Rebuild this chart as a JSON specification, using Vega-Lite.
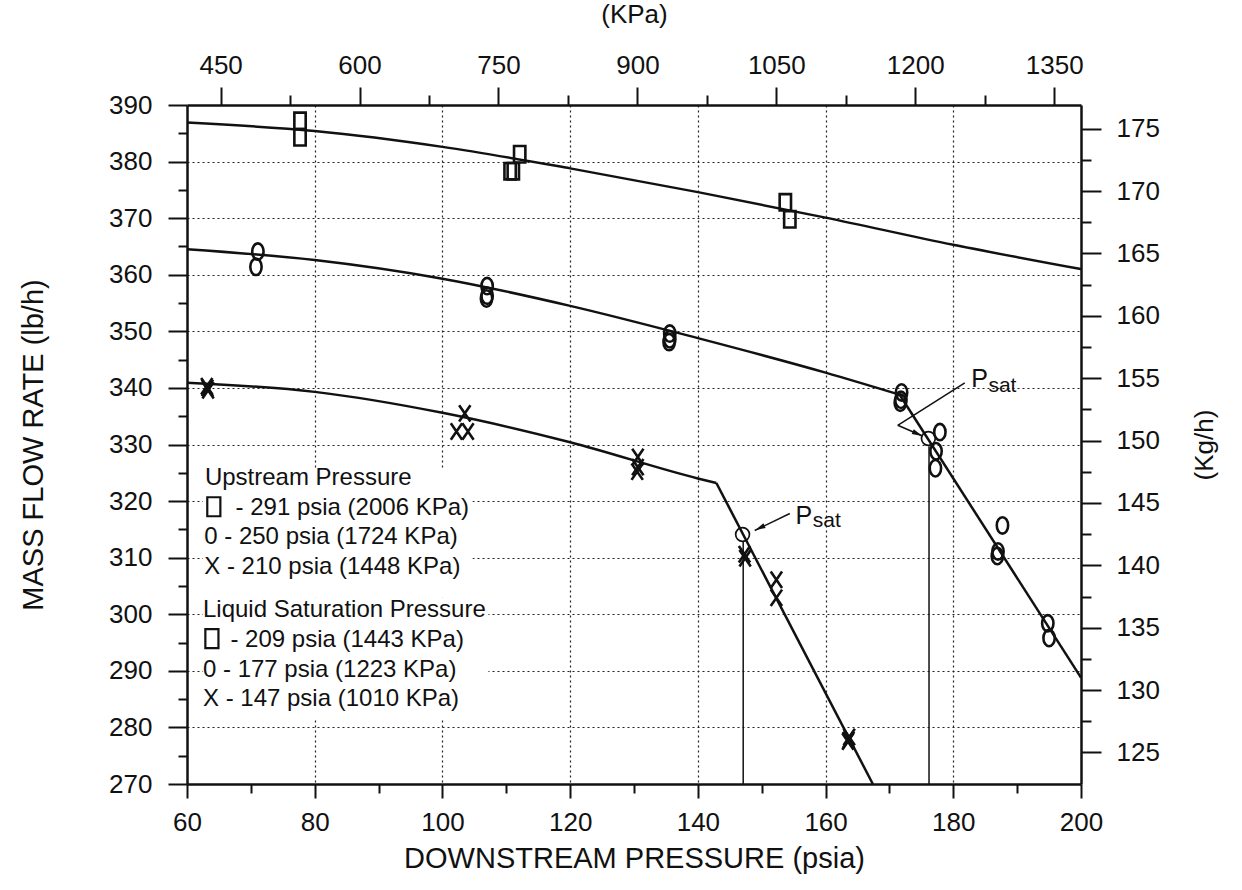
{
  "$schema": "https://vega.github.io/schema/vega-lite/v6.json",
  "width": 894,
  "height": 679,
  "autosize": {"type": "none"},
  "padding": {"left": 187, "top": 105, "right": 161, "bottom": 106},
  "background": "white",
  "config": {"view": {"stroke": null}, "font": "Liberation Sans"},
  "datasets": {
    "curves": [
      {"c": "sq", "psia": 60, "lb": 386.9}, {"c": "sq", "psia": 80, "lb": 385.4}, {"c": "sq", "psia": 100, "lb": 382.6},
      {"c": "sq", "psia": 120, "lb": 378.8}, {"c": "sq", "psia": 140, "lb": 374.6}, {"c": "sq", "psia": 160, "lb": 370.1},
      {"c": "sq", "psia": 180, "lb": 365.3}, {"c": "sq", "psia": 200, "lb": 361.0},
      {"c": "o1", "psia": 60, "lb": 364.5}, {"c": "o1", "psia": 80, "lb": 362.6}, {"c": "o1", "psia": 100, "lb": 359.3},
      {"c": "o1", "psia": 120, "lb": 354.5}, {"c": "o1", "psia": 140, "lb": 348.8}, {"c": "o1", "psia": 160, "lb": 342.7},
      {"c": "o1", "psia": 171.6, "lb": 338.8},
      {"c": "o2", "psia": 171.6, "lb": 338.8}, {"c": "o2", "psia": 200, "lb": 288.8},
      {"c": "x1", "psia": 60, "lb": 340.9}, {"c": "x1", "psia": 80, "lb": 339.3}, {"c": "x1", "psia": 100, "lb": 335.6},
      {"c": "x1", "psia": 120, "lb": 330.4}, {"c": "x1", "psia": 140, "lb": 324.0}, {"c": "x1", "psia": 142.9, "lb": 323.2},
      {"c": "x2", "psia": 142.9, "lb": 323.2}, {"c": "x2", "psia": 167.4, "lb": 270}
    ],
    "leaders": [
      {"g": "a1", "psia": 171.3, "lb": 333.4}, {"g": "a1", "psia": 181.8, "lb": 340.9},
      {"g": "a2", "psia": 171.3, "lb": 333.4}, {"g": "a2", "psia": 175.2, "lb": 331.5},
      {"g": "b", "psia": 148.9, "lb": 314.8}, {"g": "b", "psia": 154.4, "lb": 317.8}
    ],
    "vlines": [
      {"psia": 147.1, "lb": 270, "lb2": 312.8},
      {"psia": 176.2, "lb": 270, "lb2": 329.7}
    ],
    "whitebox": [
      {"psia": 62.5, "psia2": 104.7, "lb": 303, "lb2": 325.8},
      {"psia": 62.5, "psia2": 107.2, "lb": 281.6, "lb2": 303}
    ],
    "points": [
      {"s": "sq", "psia": 77.7, "lb": 387.2}, {"s": "sq", "psia": 77.7, "lb": 384.3},
      {"s": "sq", "psia": 112.1, "lb": 381.3}, {"s": "sq", "psia": 110.6, "lb": 378.3}, {"s": "sq", "psia": 111.1, "lb": 378.3},
      {"s": "sq", "psia": 153.7, "lb": 372.8}, {"s": "sq", "psia": 154.4, "lb": 369.8},
      {"s": "o", "psia": 71.1, "lb": 364.1}, {"s": "o", "psia": 70.8, "lb": 361.4},
      {"s": "o", "psia": 107.0, "lb": 358.0}, {"s": "o", "psia": 107.0, "lb": 356.3}, {"s": "o", "psia": 106.9, "lb": 355.8},
      {"s": "o", "psia": 135.6, "lb": 349.6}, {"s": "o", "psia": 135.6, "lb": 348.6}, {"s": "o", "psia": 135.5, "lb": 348.1},
      {"s": "o", "psia": 171.9, "lb": 339.2}, {"s": "o", "psia": 171.8, "lb": 337.9}, {"s": "o", "psia": 171.7, "lb": 337.4},
      {"s": "o", "psia": 177.9, "lb": 332.2}, {"s": "o", "psia": 177.3, "lb": 328.8}, {"s": "o", "psia": 177.2, "lb": 325.8},
      {"s": "o", "psia": 187.7, "lb": 315.7}, {"s": "o", "psia": 187.0, "lb": 311.1}, {"s": "o", "psia": 186.9, "lb": 310.3},
      {"s": "o", "psia": 194.8, "lb": 298.4}, {"s": "o", "psia": 195.0, "lb": 295.8},
      {"s": "x", "psia": 63.2, "lb": 340.0}, {"s": "x", "psia": 63.3, "lb": 339.6}, {"s": "x", "psia": 63.1, "lb": 340.3},
      {"s": "x", "psia": 103.5, "lb": 335.5}, {"s": "x", "psia": 102.2, "lb": 332.3}, {"s": "x", "psia": 104.0, "lb": 332.3},
      {"s": "x", "psia": 130.6, "lb": 327.8}, {"s": "x", "psia": 130.6, "lb": 326.0}, {"s": "x", "psia": 130.5, "lb": 325.2},
      {"s": "x", "psia": 147.3, "lb": 310.6}, {"s": "x", "psia": 147.4, "lb": 309.9},
      {"s": "x", "psia": 152.3, "lb": 306.1}, {"s": "x", "psia": 152.3, "lb": 302.9},
      {"s": "x", "psia": 163.6, "lb": 277.8}, {"s": "x", "psia": 163.7, "lb": 278.3}, {"s": "x", "psia": 163.5, "lb": 277.5}
    ],
    "psat": [
      {"psia": 176.1, "lb": 331.05},
      {"psia": 147.0, "lb": 314.1}
    ],
    "arrowA": [{"psia": 174.4, "lb": 331.9}],
    "arrowB": [{"psia": 149.7, "lb": 315.26}],
    "legendBoxes": [
      {"psia": 64.2, "lb": 319.0},
      {"psia": 63.9, "lb": 295.7}
    ],
    "legendText": [
      {"psia": 62.8, "lb": 322.8, "t": "Upstream Pressure"},
      {"psia": 67.6, "lb": 317.5, "t": "- 291 psia (2006 KPa)"},
      {"psia": 62.7, "lb": 312.5, "t": "0 - 250 psia (1724 KPa)"},
      {"psia": 62.7, "lb": 307.2, "t": "X - 210 psia (1448 KPa)"},
      {"psia": 62.5, "lb": 299.5, "t": "Liquid Saturation Pressure"},
      {"psia": 66.8, "lb": 294.2, "t": "- 209 psia (1443 KPa)"},
      {"psia": 62.5, "lb": 288.9, "t": "0 - 177 psia (1223 KPa)"},
      {"psia": 62.5, "lb": 283.7, "t": "X - 147 psia (1010 KPa)"}
    ],
    "pText": [
      {"psia": 182.8, "lb": 340.2, "t": "P"},
      {"psia": 155.3, "lb": 316.0, "t": "P"}
    ],
    "satText": [
      {"psia": 185.5, "lb": 339.3, "t": "sat"},
      {"psia": 158.0, "lb": 315.4, "t": "sat"}
    ],
    "second": [
      {"kpa": 413.685, "kg": 122.47},
      {"kpa": 1378.951, "kg": 176.904}
    ]
  },
  "layer": [
    {
      "encoding": {
        "x": {
          "field": "psia", "type": "quantitative",
          "scale": {"domain": [60, 200], "nice": false, "zero": false},
          "axis": {
            "orient": "bottom",
            "values": [60, 70, 80, 90, 100, 110, 120, 130, 140, 150, 160, 170, 180, 190, 200],
            "labelExpr": "datum.value % 20 === 0 ? datum.label : ''",
            "tickSize": {"condition": {"test": "datum.value % 20 === 0", "value": 14}, "value": 9},
            "tickWidth": 2, "tickColor": "#111",
            "domainWidth": 2.5, "domainColor": "#111",
            "grid": true,
            "gridOpacity": {"condition": {"test": "datum.value % 20 === 0 && datum.value > 60 && datum.value < 200", "value": 1}, "value": 0},
            "gridDash": [2, 3], "gridColor": "#222", "gridWidth": 1.2,
            "labelFont": "Liberation Sans", "labelFontSize": 26, "labelColor": "#111", "labelPadding": 11,
            "labelFlush": false, "labelOverlap": false,
            "title": "DOWNSTREAM PRESSURE (psia)", "titleFont": "Liberation Sans", "titleFontSize": 29,
            "titleFontWeight": "normal", "titleColor": "#111", "titlePadding": 9
          }
        },
        "y": {
          "field": "lb", "type": "quantitative",
          "scale": {"domain": [270, 390], "nice": false, "zero": false},
          "axis": {
            "orient": "left",
            "values": [270, 275, 280, 285, 290, 295, 300, 305, 310, 315, 320, 325, 330, 335, 340, 345, 350, 355, 360, 365, 370, 375, 380, 385, 390],
            "labelExpr": "datum.value % 10 === 0 ? datum.label : ''",
            "tickSize": {"condition": {"test": "datum.value % 10 === 0", "value": 19}, "value": 9},
            "tickWidth": 2, "tickColor": "#111",
            "domainWidth": 2.5, "domainColor": "#111",
            "grid": true,
            "gridOpacity": {"condition": {"test": "datum.value % 10 === 0 && datum.value > 270 && datum.value < 390", "value": 1}, "value": 0},
            "gridDash": [2, 3], "gridColor": "#222", "gridWidth": 1.2,
            "labelFont": "Liberation Sans", "labelFontSize": 26, "labelColor": "#111", "labelPadding": 16,
            "labelFlush": false, "labelOverlap": false,
            "title": "MASS FLOW RATE (lb/h)", "titleFont": "Liberation Sans", "titleFontSize": 29,
            "titleFontWeight": "normal", "titleColor": "#111", "titlePadding": 60
          }
        }
      },
      "layer": [
        {
          "data": {"name": "whitebox"},
          "mark": {"type": "rect", "fill": "white", "strokeWidth": 0},
          "encoding": {"x2": {"field": "psia2"}, "y2": {"field": "lb2"}}
        },
        {
          "data": {"name": "curves"},
          "mark": {"type": "line", "interpolate": "monotone", "color": "#111", "strokeWidth": 2.5},
          "encoding": {"detail": {"field": "c", "type": "nominal"}}
        },
        {
          "data": {"name": "vlines"},
          "mark": {"type": "rule", "color": "#111", "strokeWidth": 1.5},
          "encoding": {"y2": {"field": "lb2"}}
        },
        {
          "data": {"name": "leaders"},
          "mark": {"type": "line", "color": "#111", "strokeWidth": 1.5},
          "encoding": {"detail": {"field": "g", "type": "nominal"}}
        },
        {
          "data": {"name": "arrowA"},
          "mark": {"type": "point", "shape": "M1,0 L-1,-0.5 L-1,0.5 Z", "filled": true, "color": "#111", "opacity": 1, "size": 110, "angle": 24}
        },
        {
          "data": {"name": "arrowB"},
          "mark": {"type": "point", "shape": "M1,0 L-1,-0.5 L-1,0.5 Z", "filled": true, "color": "#111", "opacity": 1, "size": 110, "angle": 154.5}
        },
        {
          "data": {"name": "psat"},
          "mark": {"type": "point", "shape": "circle", "filled": false, "color": "#111", "opacity": 1, "size": 190, "strokeWidth": 1.7}
        },
        {
          "data": {"name": "points"},
          "mark": {"type": "point", "filled": false, "color": "#111", "opacity": 1, "size": 270, "strokeWidth": 2.6},
          "encoding": {
            "shape": {
              "field": "s", "type": "nominal", "legend": null,
              "scale": {
                "domain": ["sq", "o", "x"],
                "range": [
                  "M-0.69,-1 L0.69,-1 L0.69,1 L-0.69,1 Z",
                  "M0,-1 C0.381,-1 0.69,-0.552 0.69,0 C0.69,0.552 0.381,1 0,1 C-0.381,1 -0.69,0.552 -0.69,0 C-0.69,-0.552 -0.381,-1 0,-1 Z",
                  "M-0.69,-1 L0.69,1 M0.69,-1 L-0.69,1"
                ]
              }
            }
          }
        },
        {
          "data": {"name": "legendBoxes"},
          "mark": {"type": "point", "shape": "M-0.69,-1 L0.69,-1 L0.69,1 L-0.69,1 Z", "filled": false, "color": "#111", "opacity": 1, "size": 360, "strokeWidth": 2.2}
        },
        {
          "data": {"name": "legendText"},
          "mark": {"type": "text", "align": "left", "baseline": "alphabetic", "font": "Liberation Sans", "fontSize": 24, "color": "#111"},
          "encoding": {"text": {"field": "t"}}
        },
        {
          "data": {"name": "pText"},
          "mark": {"type": "text", "align": "left", "baseline": "alphabetic", "font": "Liberation Sans", "fontSize": 25, "color": "#111"},
          "encoding": {"text": {"field": "t"}}
        },
        {
          "data": {"name": "satText"},
          "mark": {"type": "text", "align": "left", "baseline": "alphabetic", "font": "Liberation Sans", "fontSize": 21, "color": "#111"},
          "encoding": {"text": {"field": "t"}}
        }
      ]
    },
    {
      "data": {"name": "second"},
      "mark": {"type": "point", "opacity": 0},
      "encoding": {
        "x": {
          "field": "kpa", "type": "quantitative",
          "scale": {"domain": [413.685, 1378.951], "nice": false, "zero": false},
          "axis": {
            "orient": "top",
            "values": [450, 525, 600, 675, 750, 825, 900, 975, 1050, 1125, 1200, 1275, 1350],
            "labelExpr": "datum.value % 150 === 0 ? datum.label : ''",
            "tickSize": {"condition": {"test": "datum.value % 150 === 0", "value": 18}, "value": 10},
            "tickWidth": 2, "tickColor": "#111",
            "domainWidth": 2.5, "domainColor": "#111",
            "grid": false,
            "labelFont": "Liberation Sans", "labelFontSize": 26, "labelColor": "#111", "labelPadding": 9,
            "labelFlush": false, "labelOverlap": false, "format": "d",
            "title": "(KPa)", "titleFont": "Liberation Sans", "titleFontSize": 26,
            "titleFontWeight": "normal", "titleColor": "#111", "titlePadding": 25
          }
        },
        "y": {
          "field": "kg", "type": "quantitative",
          "scale": {"domain": [122.47, 176.904], "nice": false, "zero": false},
          "axis": {
            "orient": "right",
            "values": [125, 127.5, 130, 132.5, 135, 137.5, 140, 142.5, 145, 147.5, 150, 152.5, 155, 157.5, 160, 162.5, 165, 167.5, 170, 172.5, 175],
            "labelExpr": "datum.value % 5 === 0 ? datum.label : ''",
            "tickSize": {"condition": {"test": "datum.value % 5 === 0", "value": 20}, "value": 10},
            "tickWidth": 2, "tickColor": "#111",
            "domainWidth": 2.5, "domainColor": "#111",
            "grid": false,
            "labelFont": "Liberation Sans", "labelFontSize": 26, "labelColor": "#111", "labelPadding": 15,
            "labelFlush": false, "labelOverlap": false,
            "title": "(Kg/h)", "titleFont": "Liberation Sans", "titleFontSize": 26, "titleAngle": -90,
            "titleFontWeight": "normal", "titleColor": "#111", "titlePadding": 58
          }
        }
      }
    }
  ],
  "resolve": {"scale": {"x": "independent", "y": "independent"}}
}
